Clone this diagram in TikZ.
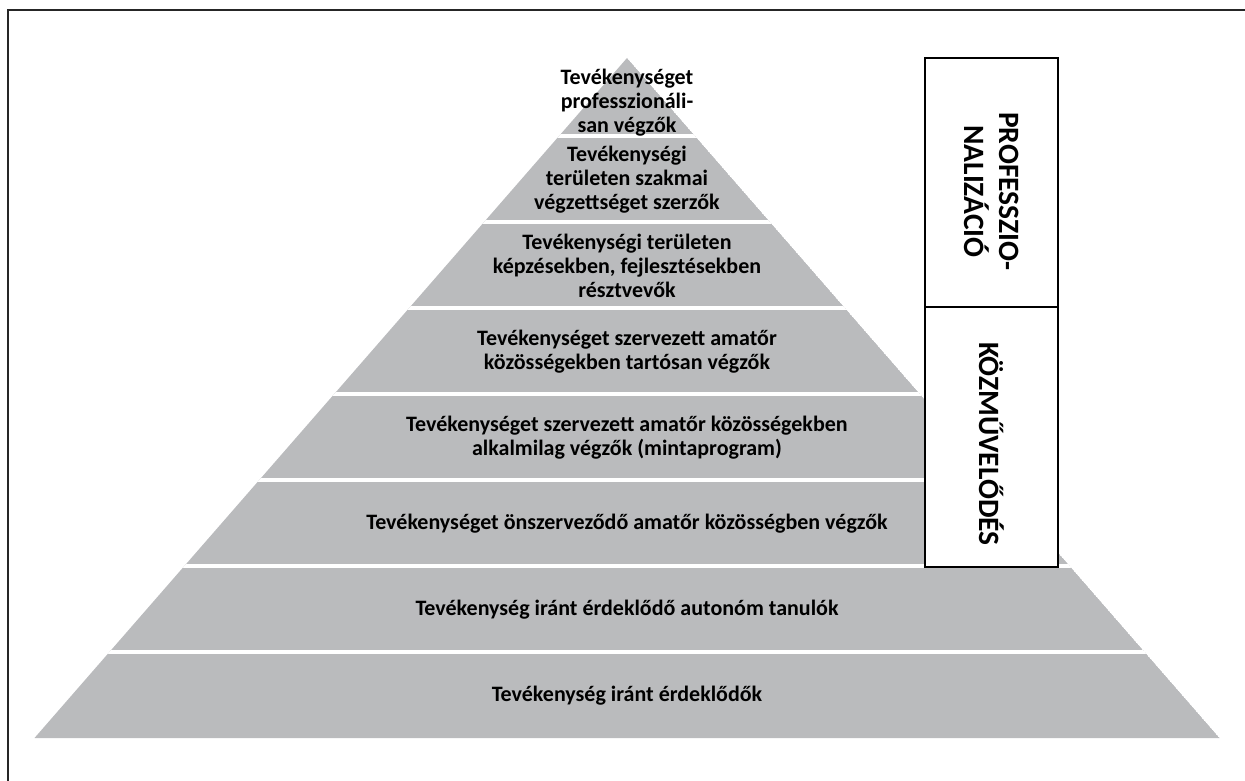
\documentclass[tikz,border=0pt]{standalone}
\usepackage{fontspec}
\setmainfont{Carlito}
\usepackage{xcolor}
\usepackage{tikz}
\usetikzlibrary{calc, positioning}
\tikzset{
    bandnode/.style = {draw=none, fill=bandgray},
    gapline/.style = {draw=white, line width=4pt},
    textnode/.style = {draw=none, fill=none, rectangle, inner sep=0em, align=center,
      font=\fontsize{22}{24}\selectfont\bfseries},
    boxnode/.style = {draw=black, fill=white, line width=1.8pt, rectangle, inner sep=0em},
    sidetextnode/.style = {draw=none, fill=none, inner sep=0em, align=center, rotate=-90,
      font=\fontsize{29.5}{35}\selectfont\bfseries},
    frameline/.style = {draw=black!85, line width=1.6pt}
}
\definecolor{bandgray}{RGB}{186, 187, 189}

\begin{document}
\begin{tikzpicture}[x=1pt, y=-1pt]
    \useasboundingbox (0,0) rectangle (1245,781);
    \draw [frameline] (8,790) -- (8,10) -- (1255,10);

    \coordinate (apex) at (627,58);
    \coordinate (baseL) at (34.5,738);
    \coordinate (baseR) at (1219.5,738);
    \begin{scope}
        \clip (apex) -- (baseR) -- (baseL) -- cycle;
        \fill [bandnode] (apex) -- (baseR) -- (baseL) -- cycle;
        \draw [gapline] (30,136) -- (1225,136);
        \draw [gapline] (30,222) -- (1225,222);
        \draw [gapline] (30,308) -- (1225,308);
        \draw [gapline] (30,394) -- (1225,394);
        \draw [gapline] (30,480) -- (1225,480);
        \draw [gapline] (30,566) -- (1225,566);
        \draw [gapline] (30,652) -- (1225,652);
    \end{scope}

    \node [textnode, name=prof] at (627,103) {Tevékenységet\\professzionáli-\\san végzők};
    \node [textnode, name=szakmai] at (627,180) {Tevékenységi\\területen szakmai\\végzettséget szerzők};
    \node [textnode, name=kepzes] at (627,266) {Tevékenységi területen\\képzésekben, fejlesztésekben\\résztvevők};
    \node [textnode, name=tartos] at (627,352) {Tevékenységet szervezett amatőr\\közösségekben tartósan végzők};
    \node [textnode, name=alkalmi] at (627,438) {Tevékenységet szervezett amatőr közösségekben\\alkalmilag végzők (mintaprogram)};
    \node [textnode, name=onszerv] at (627,524) {Tevékenységet önszerveződő amatőr közösségben végzők};
    \node [textnode, name=autonom] at (627,610) {Tevékenység iránt érdeklődő autonóm tanulók};
    \node [textnode, name=erdeklodo] at (627,696) {Tevékenység iránt érdeklődők};

    \node [boxnode, name=professz, minimum width=133, minimum height=249] at (991.5,182.5) {};
    \node [boxnode, name=kozmuv, minimum width=133, minimum height=260] at (991.5,437) {};
    \node [sidetextnode, name=professztext, xshift=9pt] at (professz.center) {PROFESSZIO-\\NALIZÁCIÓ};
    \node [sidetextnode, name=kozmuvtext, xshift=7pt] at (kozmuv.center) {KÖZMŰVELŐDÉS};
\end{tikzpicture}
\end{document}
